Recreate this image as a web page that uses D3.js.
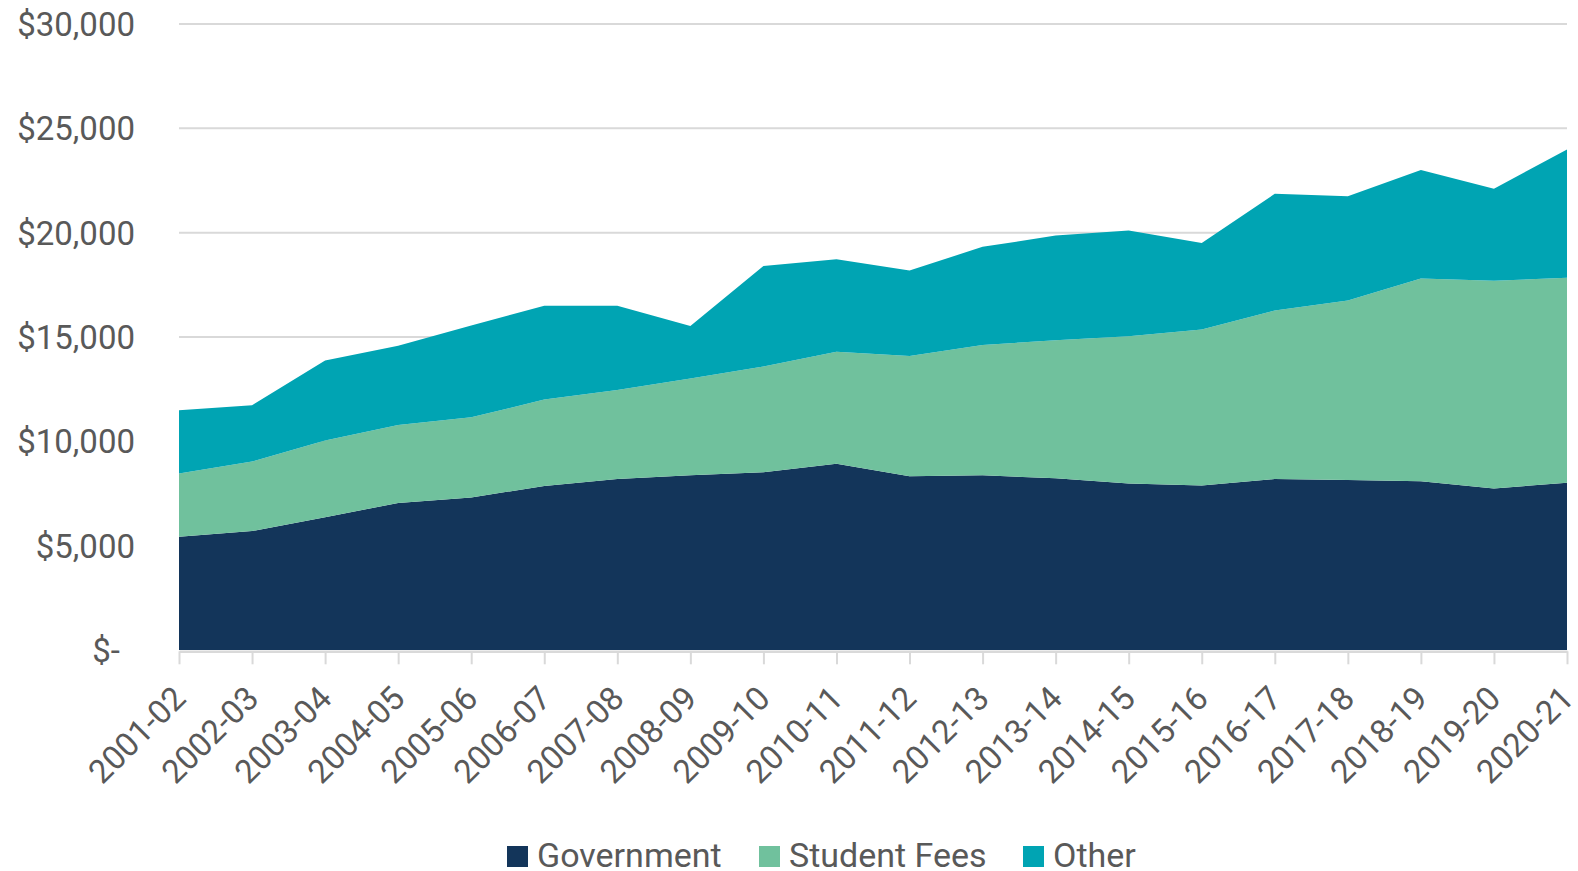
<!DOCTYPE html>
<html>
<head>
<meta charset="utf-8">
<script src="https://cdn.jsdelivr.net/npm/d3@7"></script>
<style>
  body { margin: 0; background: #fff; }
  text { font-family: Roboto, sans-serif; }
</style>
</head>
<body>
<div id="my_dataviz"></div>
<script>
// data
var years = ["2001-02","2002-03","2003-04","2004-05","2005-06","2006-07","2007-08","2008-09","2009-10","2010-11",
             "2011-12","2012-13","2013-14","2014-15","2015-16","2016-17","2017-18","2018-19","2019-20","2020-21"];
var government  = [5430, 5700, 6360, 7050, 7310, 7860, 8200, 8380, 8520, 8930, 8330, 8370, 8230, 7980, 7880, 8190, 8150, 8090, 7740, 8020];
var studentFees = [3030, 3330, 3680, 3730, 3840, 4140, 4260, 4630, 5070, 5360, 5760, 6250, 6610, 7060, 7480, 8080, 8600, 9710, 9960, 9820];
var other       = [3030, 2700, 3830, 3800, 4400, 4500, 4040, 2520, 4810, 4440, 4100, 4700, 5020, 5060, 4140, 5590, 5000, 5200, 4400, 6150];
var seriesNames = ["Government", "Student Fees", "Other"];
var yTicks = [0, 5000, 10000, 15000, 20000, 25000, 30000];

var colors = {"Government": "#13355a", "Student Fees": "#70c19d", "Other": "#00a4b3"};

// dimensions
var W = 1578, H = 871;
var margin = {top: 24, right: 11, bottom: 221, left: 179};
var width = W - margin.left - margin.right,
    height = H - margin.top - margin.bottom;

var svg = d3.select("#my_dataviz")
  .append("svg")
    .attr("width", W)
    .attr("height", H)
  .append("g")
    .attr("transform", "translate(" + margin.left + "," + margin.top + ")");

var table = years.map(function(yr, i) {
  return {"year": yr, "Government": government[i], "Student Fees": studentFees[i], "Other": other[i]};
});

var x = d3.scalePoint()
  .domain(years)
  .range([0, width]);

var y = d3.scaleLinear()
  .domain([0, 30000])
  .range([height, 0]);

// gridlines
svg.append("g")
  .selectAll("line")
  .data(yTicks.slice(1))
  .enter()
  .append("line")
    .attr("x1", 0)
    .attr("x2", width)
    .attr("y1", function(d) { return y(d); })
    .attr("y2", function(d) { return y(d); })
    .attr("stroke", "#d9d9d9")
    .attr("stroke-width", 2);

// stacked areas
var stacked = d3.stack().keys(seriesNames)(table);

var area = d3.area()
  .x(function(d) { return x(d.data.year); })
  .y0(function(d) { return y(d[0]); })
  .y1(function(d) { return y(d[1]); });

svg.selectAll(".layer")
  .data(stacked)
  .enter()
  .append("path")
    .attr("class", "layer")
    .attr("fill", function(d) { return colors[d.key]; })
    .attr("d", area);

// x axis
var xAxis = svg.append("g")
  .attr("transform", "translate(0," + (height + 1.3) + ")")
  .call(d3.axisBottom(x).tickSizeInner(13).tickSizeOuter(0).tickPadding(0));
xAxis.select(".domain").attr("stroke", "#d9d9d9").attr("stroke-width", 2.5);
xAxis.selectAll(".tick line").attr("stroke", "#d9d9d9").attr("stroke-width", 2);
xAxis.selectAll(".tick text")
  .attr("fill", "#595959")
  .style("font-size", "33px")
  .attr("text-anchor", "end")
  .attr("x", 0)
  .attr("y", 0)
  .attr("dy", 0)
  .attr("transform", "translate(8,49) rotate(-45)");

// y axis
var yAxis = svg.append("g")
  .call(d3.axisLeft(y).tickValues(yTicks).tickSize(0).tickPadding(44)
    .tickFormat(function(d) { return d === 0 ? "$-" : "$" + d3.format(",")(d); }));
yAxis.select(".domain").remove();
yAxis.selectAll(".tick text")
  .attr("fill", "#595959")
  .style("font-size", "33px")
  .attr("dy", "0.35em");
yAxis.selectAll(".tick text")
  .filter(function(d) { return d === 0; })
  .attr("x", -59);

// legend
var legendX = [507, 759, 1023];
var legend = d3.select("svg").append("g");
legend.selectAll("rect")
  .data(seriesNames)
  .enter()
  .append("rect")
    .attr("x", function(d, i) { return legendX[i]; })
    .attr("y", 846)
    .attr("width", 21)
    .attr("height", 21)
    .attr("fill", function(d) { return colors[d]; });
legend.selectAll("text")
  .data(seriesNames)
  .enter()
  .append("text")
    .attr("x", function(d, i) { return legendX[i] + 30; })
    .attr("y", 867)
    .attr("fill", "#595959")
    .style("font-size", "34px")
    .text(function(d) { return d; });
</script>
</body>
</html>
